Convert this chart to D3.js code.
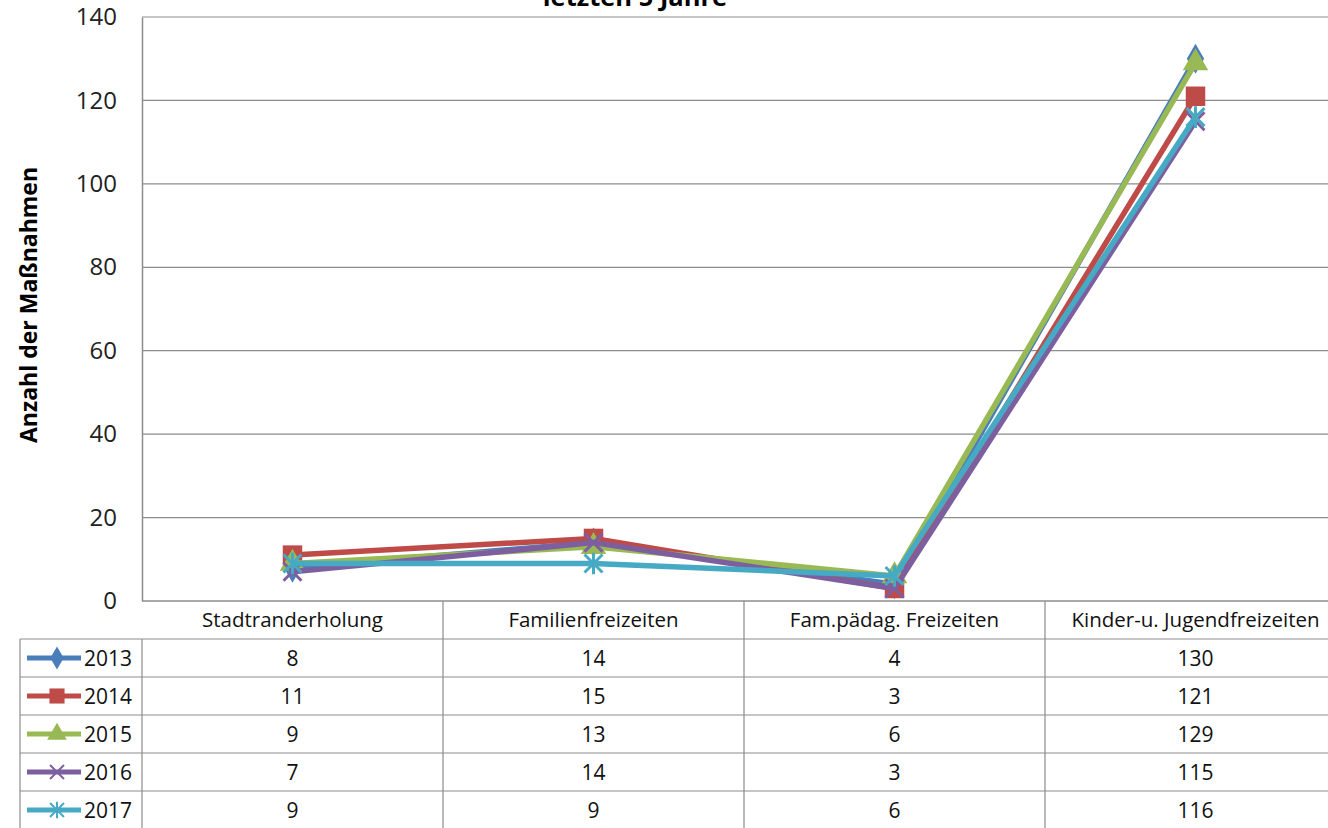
<!DOCTYPE html>
<html>
<head>
<meta charset="utf-8">
<script src="https://cdn.jsdelivr.net/npm/d3@7"></script>
<style>
  body { margin: 0; background: #fff; }
  svg { display: block; font-family: "Open Sans", sans-serif; }
</style>
</head>
<body>
<svg class="chart" width="1328" height="828"></svg>
<script>
var categories = ["Stadtranderholung", "Familienfreizeiten", "Fam.pädag. Freizeiten", "Kinder-u. Jugendfreizeiten"];
var years = ["2013", "2014", "2015", "2016", "2017"];
var v2013 = [8, 14, 4, 130];
var v2014 = [11, 15, 3, 121];
var v2015 = [9, 13, 6, 129];
var v2016 = [7, 14, 3, 115];
var v2017 = [9, 9, 6, 116];
var yTicks = [0, 20, 40, 60, 80, 100, 120, 140];

var colors = ["#4a7ebb", "#be4b48", "#98b954", "#7d5fa0", "#46aac5"];
var symbols = ["diamond", "square", "triangle", "x", "star"];

var series = years.map(function(y, i) {
  return { year: y, values: [v2013, v2014, v2015, v2016, v2017][i], color: colors[i], sym: symbols[i] };
});

var chart = d3.select(".chart"),
    plotL = 142, plotR = 1346, plotT = 17, plotB = 601,
    rowH = 38;

var xScale = d3.scaleBand().domain(categories).range([plotL, plotR]);
var yScale = d3.scaleLinear().domain([0, 140]).range([plotB, plotT]);

var grid = "#8c8c8c";

// title (cut off at the top in the original)
chart.append("text")
  .attr("x", 635).attr("y", 6)
  .attr("text-anchor", "middle")
  .attr("font-size", 25.5).attr("font-weight", "bold")
  .text("letzten 5 Jahre");

// gridlines
chart.append("g").selectAll("line")
  .data(yTicks.slice(1))
  .enter().append("line")
  .attr("x1", plotL).attr("x2", 1328)
  .attr("y1", function(d) { return yScale(d); })
  .attr("y2", function(d) { return yScale(d); })
  .attr("stroke", grid).attr("stroke-width", 1.2);

// y axis
var yAxis = chart.append("g")
  .attr("transform", "translate(" + plotL + ",0)")
  .call(d3.axisLeft(yScale).tickValues(yTicks).tickSize(0).tickPadding(25));
yAxis.select(".domain").attr("stroke", grid).attr("stroke-width", 1.5);
yAxis.selectAll("text").attr("font-size", 24).attr("font-family", "Open Sans, sans-serif").attr("fill", "#222");

chart.append("text")
  .attr("transform", "translate(37,305) rotate(-90)")
  .attr("text-anchor", "middle")
  .attr("font-size", 23).attr("font-weight", "bold")
  .text("Anzahl der Maßnahmen");

// lines
var line = d3.line()
  .x(function(d, i) { return xScale(categories[i]) + xScale.bandwidth() / 2; })
  .y(function(d) { return yScale(d); });

function symPath(s, k) {
  k = k || 1;
  if (s === "diamond") return d3.symbol(d3.symbolDiamond, 260 * k)();
  if (s === "square") return d3.symbol(d3.symbolSquare, 380 * k)();
  if (s === "triangle") return d3.symbol(d3.symbolTriangle, 280 * k)();
  var r = 9 * Math.sqrt(k);
  if (s === "x") return "M" + -r + "," + -r + "L" + r + "," + r + "M" + -r + "," + r + "L" + r + "," + -r;
  return "M" + -r + "," + -r + "L" + r + "," + r + "M" + -r + "," + r + "L" + r + "," + -r + "M0," + (-r * 1.2) + "L0," + (r * 1.2);
}

series.forEach(function(s) {
  chart.append("path")
    .datum(s.values)
    .attr("fill", "none")
    .attr("stroke", s.color)
    .attr("stroke-width", 5.5)
    .attr("stroke-linejoin", "round")
    .attr("d", line);
  chart.append("g").selectAll("path")
    .data(s.values)
    .enter().append("path")
    .attr("transform", function(d, i) {
      return "translate(" + (xScale(categories[i]) + xScale.bandwidth() / 2) + "," + yScale(d) + ")";
    })
    .attr("d", symPath(s.sym))
    .attr("fill", (s.sym === "x" || s.sym === "star") ? "none" : s.color)
    .attr("stroke", s.color)
    .attr("stroke-width", (s.sym === "x" || s.sym === "star") ? 3 : 0);
});

// data table
var table = chart.append("g");
table.append("line")
  .attr("x1", plotL).attr("x2", 1328).attr("y1", plotB).attr("y2", plotB)
  .attr("stroke", grid).attr("stroke-width", 1.5);
d3.range(1, 7).forEach(function(r) {
  table.append("line")
    .attr("x1", 20).attr("x2", 1328)
    .attr("y1", plotB + r * rowH).attr("y2", plotB + r * rowH)
    .attr("stroke", grid).attr("stroke-width", 1.2);
});
table.append("line")
  .attr("x1", 20).attr("x2", 20).attr("y1", plotB + rowH).attr("y2", 828)
  .attr("stroke", grid).attr("stroke-width", 1.2);
table.selectAll(".vline")
  .data(categories)
  .enter().append("line")
  .attr("x1", function(d) { return xScale(d); })
  .attr("x2", function(d) { return xScale(d); })
  .attr("y1", function(d, i) { return i === 0 ? plotB + rowH : plotB; })
  .attr("y2", 828)
  .attr("stroke", grid).attr("stroke-width", 1.2);

table.selectAll(".head")
  .data(categories)
  .enter().append("text")
  .attr("x", function(d) { return xScale(d) + xScale.bandwidth() / 2; })
  .attr("y", plotB + rowH / 2 + 7)
  .attr("text-anchor", "middle")
  .attr("font-size", 20.5).attr("fill", "#111")
  .text(function(d) { return d; });

series.forEach(function(s, r) {
  var cy = plotB + (r + 1) * rowH + rowH / 2;
  var row = table.append("g");
  row.append("line")
    .attr("x1", 27).attr("x2", 81).attr("y1", cy).attr("y2", cy)
    .attr("stroke", s.color).attr("stroke-width", 5);
  row.append("path")
    .attr("transform", "translate(57," + cy + ")")
    .attr("d", symPath(s.sym, 0.6))
    .attr("fill", (s.sym === "x" || s.sym === "star") ? "none" : s.color)
    .attr("stroke", s.color)
    .attr("stroke-width", (s.sym === "x" || s.sym === "star") ? 2 : 0);
  row.append("text")
    .attr("x", 84).attr("y", cy + 8)
    .attr("font-size", 21).attr("fill", "#111")
    .text(s.year);
  row.selectAll(".val")
    .data(s.values)
    .enter().append("text")
    .attr("x", function(d, i) { return xScale(categories[i]) + xScale.bandwidth() / 2; })
    .attr("y", cy + 8)
    .attr("text-anchor", "middle")
    .attr("font-size", 21).attr("fill", "#111")
    .text(function(d) { return d; });
});
</script>
</body>
</html>
